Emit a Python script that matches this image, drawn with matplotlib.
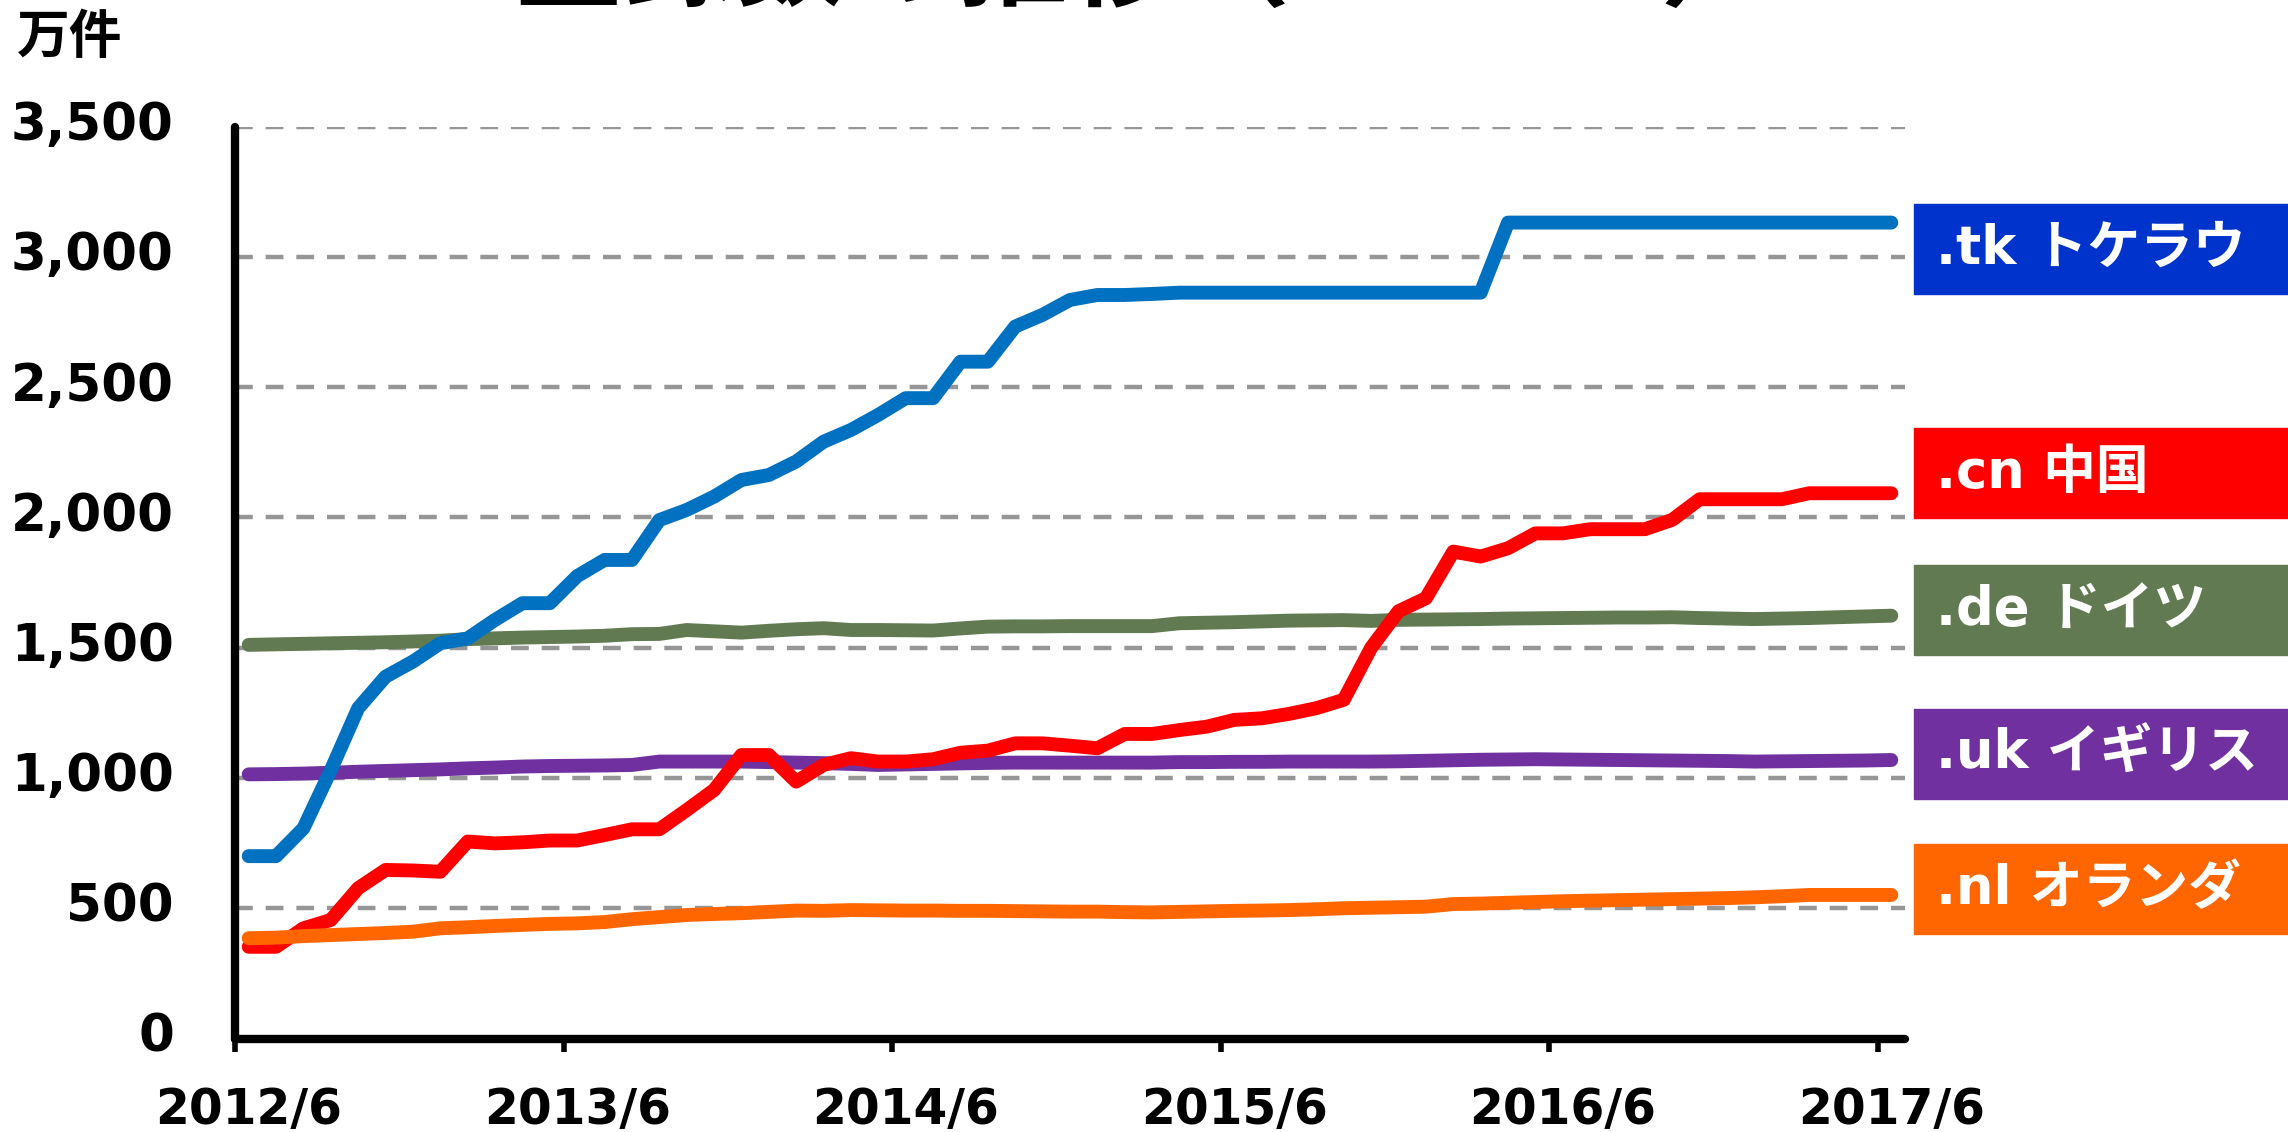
import matplotlib
matplotlib.use('Agg')
import matplotlib.pyplot as plt
import matplotlib.transforms as mtransforms
from matplotlib.patches import Rectangle

plt.rcParams['font.family'] = ['DejaVu Sans', 'Noto Sans CJK JP']
plt.rcParams['font.weight'] = 'bold'

# monthly categories 2012/6 .. 2017/6
months = []
for y in range(2012, 2018):
    for m in range(1, 13):
        if (y, m) >= (2012, 6) and (y, m) <= (2017, 6):
            months.append(f'{y}/{m}')
tick_labels = ['2012/6', '2013/6', '2014/6', '2015/6', '2016/6', '2017/6']

# registrations, 万件
tk = [700, 700, 807, 1030, 1268, 1389, 1447, 1517, 1536, 1607, 1671, 1671, 1775, 1837, 1837,
      1990, 2029, 2080, 2144, 2163, 2215,
      2291, 2336, 2394, 2458, 2458, 2598, 2598, 2733, 2778, 2835, 2854, 2854, 2858, 2863,
      2863, 2863, 2863, 2863, 2863, 2863,
      2863, 2863, 2863, 2863, 2863, 3132, 3132, 3132, 3132, 3132, 3132, 3132, 3132, 3132,
      3132, 3132, 3132, 3132, 3132, 3132]
cn = [352, 352, 423, 455, 577, 647, 645, 640, 756, 749, 753, 760, 760, 781, 803, 803, 877,
      954, 1088, 1088, 986,
      1050, 1076, 1063, 1063, 1072, 1097, 1105, 1133, 1133, 1124, 1114, 1169, 1169, 1184,
      1197, 1223, 1229, 1246, 1268, 1300,
      1500, 1640, 1690, 1869, 1850, 1882, 1939, 1939, 1955, 1955, 1955, 1991, 2070, 2070,
      2070, 2070, 2093, 2093, 2093, 2093]
de = [1511, 1513, 1515, 1517, 1519, 1521, 1524, 1527, 1533, 1536, 1539, 1541, 1543, 1546,
      1552, 1553, 1568, 1563, 1558, 1565, 1571,
      1575, 1568, 1568, 1567, 1566, 1574, 1581, 1582, 1582, 1583, 1583, 1583, 1583, 1594,
      1596, 1598, 1601, 1604, 1605, 1606,
      1603, 1607, 1608, 1609, 1610, 1612, 1613, 1614, 1615, 1616, 1616, 1617, 1614, 1612,
      1610, 1612, 1614, 1617, 1620, 1623]
uk = [1014, 1015, 1017, 1020, 1024, 1027, 1030, 1033, 1037, 1040, 1044, 1046, 1047, 1048,
      1050, 1063, 1063, 1063, 1063, 1061, 1059,
      1057, 1054, 1050, 1052, 1054, 1056, 1058, 1059, 1059, 1059, 1059, 1059, 1059, 1061,
      1061, 1062, 1062, 1063, 1063, 1063,
      1063, 1064, 1066, 1068, 1070, 1071, 1072, 1071, 1070, 1069, 1068, 1067, 1066, 1065,
      1063, 1064, 1065, 1066, 1067, 1069]
nl = [385, 387, 393, 397, 401, 405, 410, 423, 427, 432, 436, 440, 442, 447, 458, 466, 474,
      478, 481, 486, 491,
      490, 493, 492, 491, 491, 490, 490, 489, 488, 487, 487, 485, 484, 486, 488, 490, 491,
      493, 496, 500,
      502, 504, 506, 516, 518, 521, 524, 527, 529, 531, 533, 535, 537, 539, 542, 546, 551,
      551, 551, 551]

labels = ['.tk トケラウ', '.cn 中国', '.de ドイツ', '.uk イギリス', '.nl オランダ']
line_colors = ['#0070C0', '#FF0000', '#627A52', '#7030A0', '#FF6600']
box_colors = ['#0033CC', '#FF0000', '#627A52', '#7030A0', '#FF6600']
z_order = [4, 5, 2, 3, 6]
box_centers = [249, 473, 610, 754, 889]  # px from top

W, H = 2288, 1132
fig = plt.figure(figsize=(W / 100, H / 100), dpi=100)
ax = fig.add_axes([235 / W, 1 - 1038.5 / H, (1905 - 235) / W, (1038.5 - 126.7) / H])

x = list(range(len(months)))
for vals, c, z in zip([tk, cn, de, uk, nl], line_colors, z_order):
    ax.plot(x, vals, color=c, lw=10, solid_capstyle='round',
            solid_joinstyle='round', zorder=z, clip_on=False)

ax.set_xlim(-0.5, len(months) - 0.5)
ax.set_ylim(0, 3500)

yt = list(range(0, 3501, 500))
ax.set_yticks(yt)
ax.set_yticklabels([f'{v:,}' for v in yt], fontsize=37, fontweight='bold')
ax.tick_params(axis='y', length=0, pad=44)
up = mtransforms.ScaledTranslation(0, 6 / 100, fig.dpi_scale_trans)
for t in ax.get_yticklabels():
    t.set_transform(t.get_transform() + up)

ax.set_xticks([i - 0.5 for i in range(0, len(months), 12)])
ax.set_xticklabels([])
ax.set_xticks(list(range(0, len(months), 12)), minor=True)
ax.set_xticklabels(tick_labels, minor=True, fontsize=35, fontweight='bold')
ax.tick_params(axis='x', which='major', length=9, width=4, direction='out', color='black')
ax.tick_params(axis='x', which='minor', length=0, pad=34)

ax.yaxis.grid(True, color='#969696', lw=3.2, linestyle=(0, (4, 2.9)))
ax.set_axisbelow(True)

for s in ['top', 'right']:
    ax.spines[s].set_visible(False)
for s in ['left', 'bottom']:
    ax.spines[s].set_linewidth(6)
    ax.spines[s].set_color('black')
    ax.spines[s].set_capstyle('round')

# label boxes on the right
for lab, c, cy in zip(labels, box_colors, box_centers):
    fig.patches.append(Rectangle((1914 / W, 1 - (cy + 45) / H), (W - 1914) / W, 90 / H,
                                 transform=fig.transFigure, color=c, zorder=1))
    fig.text(1936 / W, 1 - cy / H, lab, color='white', fontsize=38, fontweight='bold',
             ha='left', va='center')

fig.text(17 / W, 1 - 12 / H, '万件', fontsize=38, fontweight='bold', ha='left', va='top')
fig.text(1142 / W, 1 - 20 / H, '登録数の推移（ccTLD）', fontsize=80, fontweight='bold',
         ha='center', va='bottom')

fig.savefig('out.png', dpi=100, facecolor='white')
